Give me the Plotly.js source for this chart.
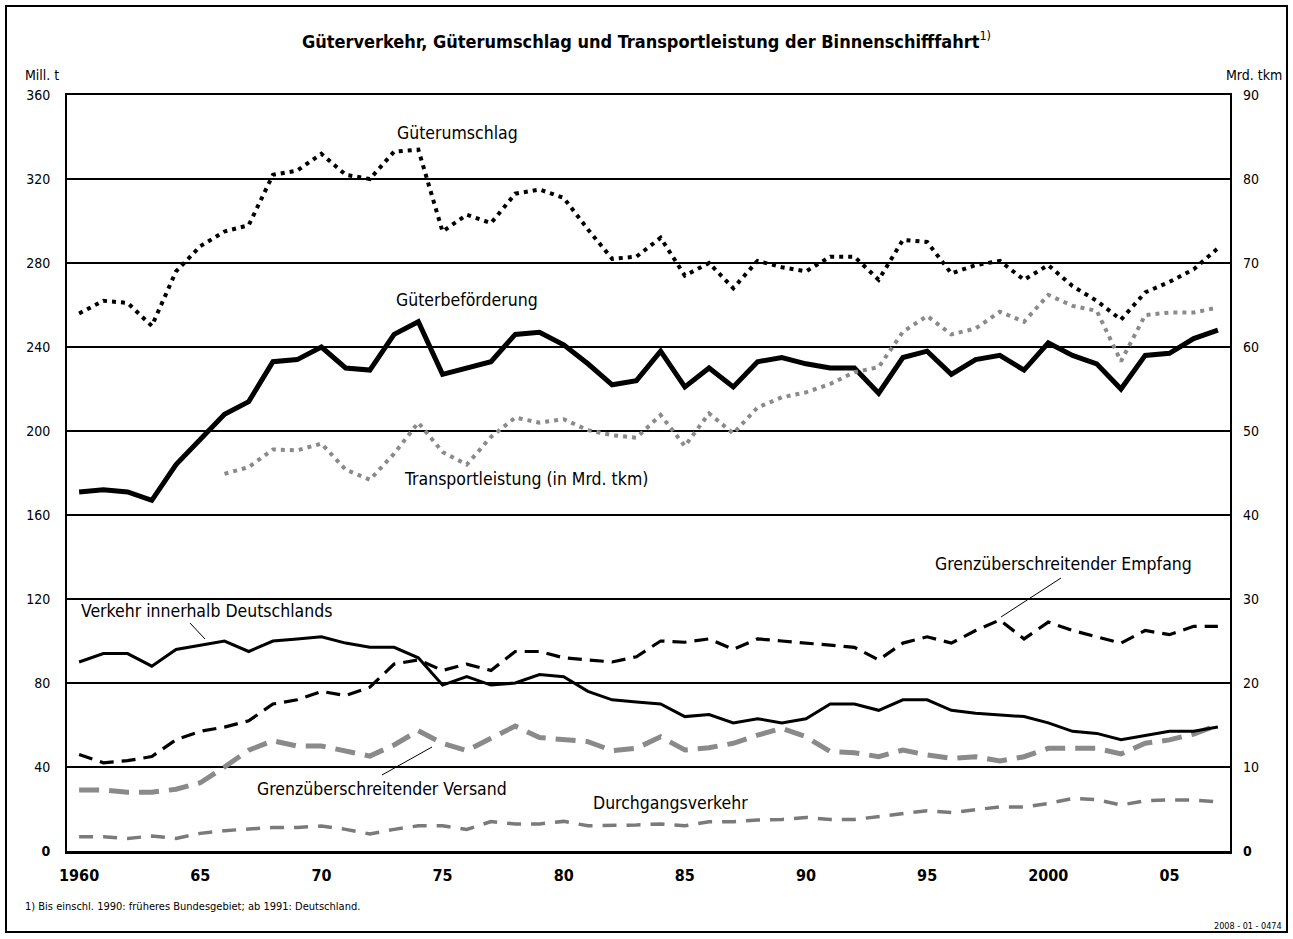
<!DOCTYPE html>
<html>
<head>
<meta charset="utf-8">
<script src="https://cdn.plot.ly/plotly-3.0.1.min.js"></script>
<style>
  body { margin: 0; background: #fff; }
  #plot { width: 1293px; height: 939px; }
</style>
</head>
<body>
<div id="plot"></div>
<script>
// years 1960 - 2007
var years = Array.from({length: 48}, function (d, i) { return 1960 + i; });
var transportYears = years.slice(6);   // series starts 1966

// Mill. t
var gueterumschlag = [256, 262, 261, 250, 276, 288, 295, 298, 322, 324,
  332, 322, 320, 333, 334, 295, 303, 299, 313, 315,
  311, 296, 282, 283, 292, 274, 280, 268, 281, 278,
  276, 283, 283, 272, 291, 290, 275, 279, 281, 272,
  279, 269, 262, 253, 266, 271, 277, 287];
var gueterbefoerderung = [171, 172, 171, 167, 184, 196, 208, 214, 233, 234,
  240, 230, 229, 246, 252, 227, 230, 233, 246, 247,
  241, 232, 222, 224, 238, 221, 230, 221, 233, 235,
  232, 230, 230, 218, 235, 238, 227, 234, 236, 229,
  242, 236, 232, 220, 236, 237, 244, 248];
var verkehrInnerhalb = [90, 94, 94, 88, 96, 98, 100, 95, 100, 101,
  102, 99, 97, 97, 92, 79, 83, 79, 80, 84,
  83, 76, 72, 71, 70, 64, 65, 61, 63, 61,
  63, 70, 70, 67, 72, 72, 67, 65.6, 64.8, 64,
  61, 57, 56, 53, 55, 57, 57, 59];
var empfang = [46, 42, 43, 45, 53, 57, 59, 62, 70, 72,
  76, 74, 78, 89, 91, 86, 89, 86, 95, 95,
  92, 91, 90, 92.5, 100, 99.4, 101, 96, 101, 100,
  99, 98, 97, 91, 99, 102, 99, 105, 110, 101,
  109, 105, 102, 99, 105, 103, 107, 107];
var versand = [29, 29, 28, 28, 29.4, 32.5, 40, 48, 52.5, 50,
  50, 47.8, 45.2, 50.5, 57.3, 51.3, 47.8, 53.7, 59.5, 54,
  53.2, 52.1, 47.8, 48.9, 54.4, 48.1, 49.2, 51.3, 55.2, 58.4,
  54.4, 47.3, 46.8, 44.9, 48.1, 45.7, 44.1, 44.9, 42.9, 44.9,
  48.9, 48.9, 48.9, 46.2, 51.3, 52.9, 55.7, 60];
var durchgang = [6.8, 6.8, 6, 7.1, 6, 8.4, 9.7, 10.6, 11.2, 11.2,
  11.9, 10.3, 8.1, 10.3, 12, 12, 10.3, 14, 12.9, 12.9,
  14.1, 12, 12, 12.4, 12.9, 12, 13.9, 13.9, 14.8, 15,
  16, 15, 15, 16.3, 17.9, 19.2, 18.3, 19.8, 21, 21,
  22.6, 25, 24.5, 21.9, 23.9, 24.3, 24.3, 23.4];

// Mrd. tkm (right axis), 1966 - 2007
var transportleistung = [44.9, 45.7, 47.8, 47.7, 48.5, 45.4, 44.2, 47.3, 51.0, 47.5,
  46.0, 49.3, 51.6, 51.0, 51.4, 50.1, 49.5, 49.2, 51.9, 48.2,
  52.1, 49.7, 52.8, 54.0, 54.6, 55.6, 57.0, 57.6, 61.8, 63.7,
  61.5, 62.2, 64.2, 63.0, 66.2, 64.9, 64.3, 58.3, 63.8, 64.1,
  64.1, 64.7];

var xTickVals = [1960, 1965, 1970, 1975, 1980, 1985, 1990, 1995, 2000, 2005];
var xTickText = ['1960', '65', '70', '75', '80', '85', '90', '95', '2000', '05'];
var yLeftTicks = [0, 40, 80, 120, 160, 200, 240, 280, 320, 360];
var yRightTicks = [0, 10, 20, 30, 40, 50, 60, 70, 80, 90];

var FONT = '"DejaVu Sans Condensed", "Liberation Sans Narrow", sans-serif';
var GREY = '#8a8a8a';

function line(x, y, color, width, dash, yaxis) {
  return {
    x: x, y: y, type: 'scatter', mode: 'lines',
    yaxis: yaxis || 'y',
    line: {color: color, width: width, dash: dash},
    hoverinfo: 'x+y'
  };
}

var data = [
  line(years, versand, GREY, 5, '20px,10px'),
  line(years, durchgang, '#7a7a7a', 3.5, '14px,10px'),
  line(years, empfang, '#000', 3.2, '14px,8px'),
  line(years, verkehrInnerhalb, '#000', 3, 'solid'),
  line(years, gueterbefoerderung, '#000', 5, 'solid'),
  line(years, gueterumschlag, '#000', 4, '4px,5px'),
  line(transportYears, transportleistung, GREY, 4, '4px,5px', 'y2')
];

// plot area in pixels: left 67, right 1230, top 95, bottom 851
var L = 67, R = 1230, T = 95, B = 851;
function px(x) { return (x - L) / (R - L); }
function py(y) { return (B - y) / (B - T); }

function label(text, x, y, opts) {
  opts = opts || {};
  return {
    text: text, xref: 'paper', yref: 'paper',
    x: px(x), y: py(y), showarrow: false,
    xanchor: opts.xanchor || 'center', yanchor: 'middle',
    font: {family: FONT, size: opts.size || 17.5, color: '#000'}
  };
}

var annotations = [
  label('<b>Güterverkehr, Güterumschlag und Transportleistung der Binnenschifffahrt</b><sup>1)</sup>', 646, 40, {size: 18}),
  label('Mill. t', 23, 75, {xanchor: 'left', size: 14}),
  label('Mrd. tkm', 1284, 75, {xanchor: 'right', size: 14}),
  label('Güterumschlag', 457, 133),
  label('Güterbeförderung', 467, 300),
  label('Transportleistung (in Mrd. tkm)', 526, 479),
  label('Grenzüberschreitender Empfang', 1063, 564),
  label('Verkehr innerhalb Deutschlands', 206, 611),
  label('Grenzüberschreitender Versand', 382, 789),
  label('Durchgangsverkehr', 670, 803),
  label('1) Bis einschl. 1990: früheres Bundesgebiet; ab 1991: Deutschland.', 23, 906, {xanchor: 'left', size: 11}),
  label('2008 - 01 - 0474', 1284, 926, {xanchor: 'right', size: 9})
];

function leader(x0, y0, x1, y1) {
  return {
    type: 'line', xref: 'paper', yref: 'paper',
    x0: px(x0), y0: py(y0), x1: px(x1), y1: py(y1),
    line: {color: '#000', width: 1}
  };
}

var shapes = [
  // outer frame
  {type: 'rect', xref: 'paper', yref: 'paper',
    x0: px(6), y0: py(932), x1: px(1287), y1: py(6),
    line: {color: '#000', width: 2}},
  leader(190, 623, 205, 639),
  leader(1061, 578, 1001, 617),
  leader(382, 775, 432, 747)
];

var layout = {
  width: 1293,
  height: 939,
  margin: {l: L, r: 1293 - R, t: T, b: 939 - B},
  paper_bgcolor: '#fff',
  plot_bgcolor: '#fff',
  showlegend: false,
  font: {family: FONT, size: 14, color: '#000'},
  xaxis: {
    range: [1959.5, 2007.5],
    tickmode: 'array', tickvals: xTickVals, ticktext: xTickText,
    ticks: '', showgrid: false, zeroline: false,
    showline: true, linecolor: '#000', linewidth: 2.5, mirror: true,
    ticklabelstandoff: 8,
    tickfont: {family: FONT, size: 16, color: '#000', weight: 'bold'}
  },
  xaxis2: {
    overlaying: 'x', anchor: 'y', side: 'bottom',
    range: [1959.5, 2007.5],
    tickmode: 'linear', tick0: 1959.5, dtick: 1,
    ticks: 'outside', ticklen: 6, tickwidth: 1.5, tickcolor: '#000',
    showticklabels: false, showgrid: false, zeroline: false, showline: false
  },
  yaxis: {
    range: [0, 360],
    tickmode: 'array', tickvals: yLeftTicks,
    ticktext: yLeftTicks.map(function (v) { return v === 0 ? '<b>0</b>' : String(v); }),
    ticks: '', showgrid: true, gridcolor: '#000', gridwidth: 1.5,
    zeroline: false, showline: true, linecolor: '#000', linewidth: 2, mirror: true,
    ticklabelstandoff: 12,
    tickfont: {family: FONT, size: 14, color: '#000'}
  },
  yaxis2: {
    overlaying: 'y', side: 'right', anchor: 'x',
    range: [0, 90],
    tickmode: 'array', tickvals: yRightTicks,
    ticktext: yRightTicks.map(function (v) { return v === 0 ? '<b>0</b>' : String(v); }),
    ticks: '', showgrid: false, zeroline: false, showline: false,
    ticklabelstandoff: 12,
    tickfont: {family: FONT, size: 14, color: '#000'}
  },
  annotations: annotations,
  shapes: shapes
};

Plotly.newPlot('plot', data, layout, {displayModeBar: false, staticPlot: true});
</script>
</body>
</html>
